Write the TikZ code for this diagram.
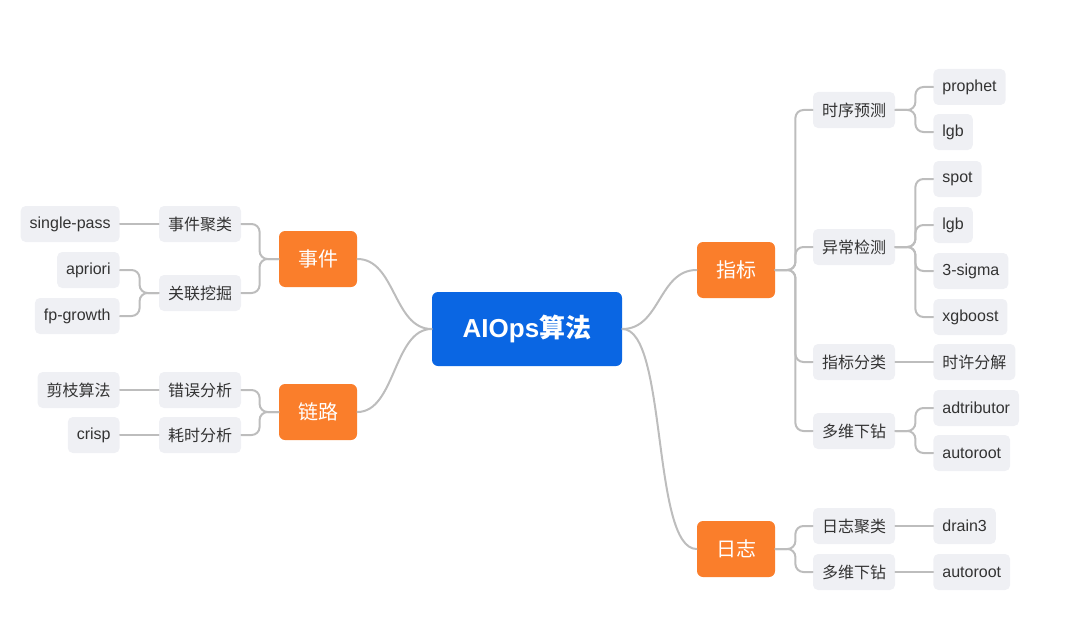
\documentclass[tikz,border=0pt]{standalone}
\usepackage{fontspec}
\setmainfont{Liberation Sans}
\newfontfamily\cjk{Noto Sans CJK SC}
\usetikzlibrary{positioning,calc}

\definecolor{rootblue}{HTML}{0A66E3}
\definecolor{topicorange}{HTML}{FA7E2B}
\definecolor{boxgray}{HTML}{EFF0F4}
\definecolor{linkgray}{HTML}{BDBDBD}
\definecolor{txtgray}{HTML}{333333}

\begin{document}
\begin{tikzpicture}[x=0.5pt,y=-0.5pt,line cap=round,line join=round]
	\tikzset{
		rootbox/.style={fill=rootblue,text=white,rounded corners=3pt,minimum width=95pt,minimum height=37pt,font=\fontsize{13}{15}\selectfont\bfseries},
		topicbox/.style={fill=topicorange,text=white,rounded corners=3pt,minimum width=39pt,minimum height=28pt,font=\cjk\fontsize{10}{12}\selectfont},
		subbox/.style={fill=boxgray,text=txtgray,rounded corners=2.5pt,minimum height=18pt,inner xsep=4.5pt,font=\fontsize{8}{10}\selectfont},
		link/.style={draw=linkgray,line width=1pt},
		elbow/.style={link,rounded corners=4pt}
	}
	\useasboundingbox (0,0) rectangle (1080,642);
	
	% root and main topics
	\node[rootbox] (root) at (527,329) {AIOps{\cjk 算法}};
	\node[topicbox] (shijian) at (318,259) {事件};
	\node[topicbox] (lianlu) at (318,412) {链路};
	\node[topicbox] (zhibiao) at (736,270) {指标};
	\node[topicbox] (rizhi) at (736,549) {日志};
	
	% left: second level
	\node[subbox] (sjjl) at (200,224) {\cjk 事件聚类};
	\node[subbox] (gljj) at (200,293) {\cjk 关联挖掘};
	\node[subbox] (cwfx) at (200,390) {\cjk 错误分析};
	\node[subbox] (hsfx) at (200,435) {\cjk 耗时分析};
	
	% left: leaves
	\node[subbox,anchor=east] (singlepass) at (120,224) {single-pass};
	\node[subbox,anchor=east] (apriori) at (120,270) {apriori};
	\node[subbox,anchor=east] (fpgrowth) at (120,316) {fp-growth};
	\node[subbox,anchor=east] (jianzhi) at (120,390) {\cjk 剪枝算法};
	\node[subbox,anchor=east] (crisp) at (120,435) {crisp};
	
	% right: second level
	\node[subbox] (sxyc) at (854,110) {\cjk 时序预测};
	\node[subbox] (ycjc) at (854,247) {\cjk 异常检测};
	\node[subbox] (zbfl) at (854,362) {\cjk 指标分类};
	\node[subbox] (dwxz) at (854,431) {\cjk 多维下钻};
	\node[subbox] (rzjl) at (854,526) {\cjk 日志聚类};
	\node[subbox] (dwxzb) at (854,572) {\cjk 多维下钻};
	
	% right: leaves
	\node[subbox,anchor=west] (prophet) at (933,87) {prophet};
	\node[subbox,anchor=west] (lgba) at (933,132) {lgb};
	\node[subbox,anchor=west] (spot) at (933,179) {spot};
	\node[subbox,anchor=west] (lgbb) at (933,225) {lgb};
	\node[subbox,anchor=west] (sigma) at (933,271) {3-sigma};
	\node[subbox,anchor=west] (xgboost) at (933,317) {xgboost};
	\node[subbox,anchor=west] (sxfj) at (933,362) {\cjk 时许分解};
	\node[subbox,anchor=west] (adtributor) at (933,408) {adtributor};
	\node[subbox,anchor=west] (autoroota) at (933,453) {autoroot};
	\node[subbox,anchor=west] (drain) at (933,526) {drain3};
	\node[subbox,anchor=west] (autorootb) at (933,572) {autoroot};
	
	% root curves
	\draw[link] (root.east) .. controls ($(root.east)+(38,0)$) and ($(zhibiao.west)+(-38,0)$) .. (zhibiao.west);
	\draw[link] (root.east) .. controls ($(root.east)+(45,0)$) and ($(rizhi.west)+(-45,0)$) .. (rizhi.west);
	\draw[link] (root.west) .. controls ($(root.west)+(-38,0)$) and ($(shijian.east)+(38,0)$) .. (shijian.east);
	\draw[link] (root.west) .. controls ($(root.west)+(-38,0)$) and ($(lianlu.east)+(38,0)$) .. (lianlu.east);
	
	% topic to second level
	\foreach \src/\dst in {shijian/sjjl, shijian/gljj, lianlu/cwfx, lianlu/hsfx}
		\draw[elbow] (\src.west) -- ++(-19,0) |- (\dst.east);
	\foreach \src/\dst in {zhibiao/sxyc, zhibiao/ycjc, zhibiao/zbfl, zhibiao/dwxz, rizhi/rzjl, rizhi/dwxzb}
		\draw[elbow] (\src.east) -- ++(20,0) |- (\dst.west);
	
	% second level to leaves
	\foreach \src/\dst in {gljj/apriori, gljj/fpgrowth}
		\draw[elbow] (\src.west) -- ++(-19,0) |- (\dst.east);
	\foreach \src/\dst in {sxyc/prophet, sxyc/lgba, ycjc/spot, ycjc/lgbb, ycjc/sigma, ycjc/xgboost, dwxz/adtributor, dwxz/autoroota}
		\draw[elbow] (\src.east) -- ++(20,0) |- (\dst.west);
	% single children
	\foreach \src/\dst in {sjjl/singlepass, cwfx/jianzhi, hsfx/crisp}
		\draw[link] (\src.west) -- (\dst.east);
	\foreach \src/\dst in {zbfl/sxfj, rzjl/drain, dwxzb/autorootb}
		\draw[link] (\src.east) -- (\dst.west);
\end{tikzpicture}
\end{document}
